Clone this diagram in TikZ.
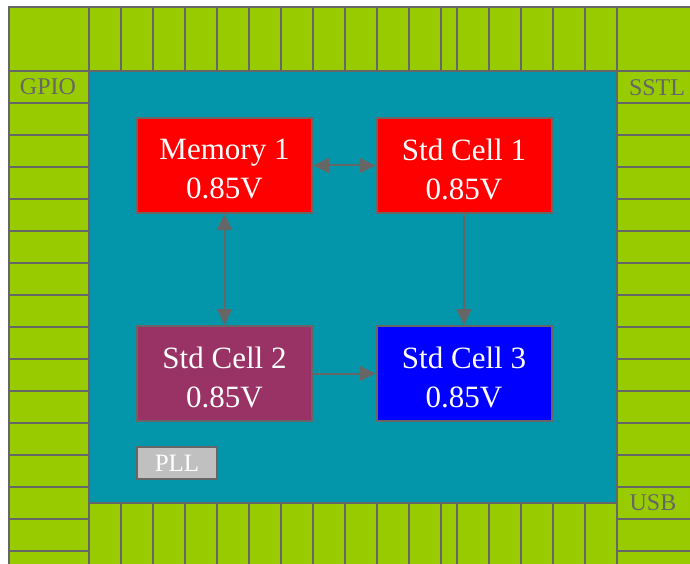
\documentclass[tikz,border=0pt]{standalone}
\usepackage{fontspec}
\setmainfont{Liberation Serif}
\usetikzlibrary{arrows.meta}
\definecolor{padgreen}{HTML}{99CC00}
\definecolor{coreteal}{HTML}{0396AA}
\definecolor{edgegray}{HTML}{666666}
\definecolor{plum}{HTML}{993366}
\definecolor{pllgray}{HTML}{C0C0C0}
\tikzset{
  pad/.style={fill=padgreen, draw=edgegray, line width=2pt},
  padlabel/.style={text=edgegray, font=\fontsize{24}{27}\selectfont, inner sep=0pt},
  block/.style={draw=edgegray, line width=2pt, minimum width=175pt, minimum height=95pt, inner sep=0pt},
  blocktext/.style={text=white, align=center, inner sep=0pt, font=\fontsize{31}{39}\selectfont},
  link/.style={draw=edgegray, line width=2pt},
  tip/.tip={Triangle[length=16pt,width=15pt]}
}
\begin{document}
\begin{tikzpicture}[x=1pt,y=-1pt]
\useasboundingbox (0,0) rectangle (690,564);
\clip (0,0) rectangle (690,564);
% corners
\draw[pad] (9,7) rectangle (89,71);
\draw[pad] (617,7) rectangle (697,71);
% top and bottom pads
\foreach \a/\b in {89/121,121/153,153/185,185/217,217/249,249/281,281/313,313/345,345/377,377/409,409/441,441/457,457/489,489/521,521/553,553/585,585/617}{
  \draw[pad] (\a,7) rectangle (\b,71);
  \draw[pad] (\a,503) rectangle (\b,583);
}
% left and right pads
\foreach \k in {0,...,15}{
  \pgfmathsetmacro\ya{71+32*\k}
  \pgfmathsetmacro\yb{103+32*\k}
  \draw[pad] (9,\ya) rectangle (89,\yb);
  \draw[pad] (617,\ya) rectangle (697,\yb);
}
% core
\draw[fill=coreteal, draw=edgegray, line width=2pt] (89,71) rectangle (617,503);
% pad labels
\node[padlabel] (gpio) at (48,87) {GPIO};
\node[padlabel] (sstl) at (657,88) {SSTL};
\node[padlabel] (usb) at (653,503) {USB};
% blocks
\node[block, fill=red] (mem1) at (224.5,165.5) {};
\node[block, fill=red] (sc1) at (464,165.5) {};
\node[block, fill=plum] (sc2) at (224.5,373.5) {};
\node[block, fill=blue] (sc3) at (464,373.5) {};
\node[blocktext] (mem1t) at ([yshift=-4pt]mem1.center) {Memory 1\\0.85V};
\node[blocktext] (sc1t) at ([yshift=-4pt]sc1.center) {Std Cell 1\\0.85V};
\node[blocktext] (sc2t) at ([yshift=-4pt]sc2.center) {Std Cell 2\\0.85V};
\node[blocktext] (sc3t) at ([yshift=-4pt]sc3.center) {Std Cell 3\\0.85V};
\node[draw=edgegray, line width=2pt, fill=pllgray, minimum width=80pt, minimum height=32pt,
  inner sep=0pt, text=white, font=\fontsize{25}{28}\selectfont] (pll) at (177,463) {PLL};
% connectors
\draw[link, {tip}-{tip}] (mem1.east) -- (sc1.west);
\draw[link, {tip}-{tip}] (mem1.south) -- (sc2.north);
\draw[link, -{tip}] (sc1.south) -- (sc3.north);
\draw[link, -{tip}] (sc2.east) -- (sc3.west);
\end{tikzpicture}
\end{document}
